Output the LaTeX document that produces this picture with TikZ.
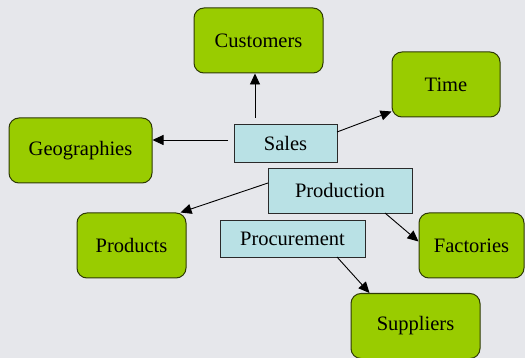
\documentclass[tikz,border=0pt]{standalone}
\usepackage{fontspec}
\setmainfont{Liberation Serif}
\newfontfamily\tnr{Liberation Serif}
\usetikzlibrary{arrows.meta,calc}
\definecolor{bgc}{HTML}{E6E7EB}
\definecolor{dimc}{HTML}{99CC00}
\definecolor{factc}{HTML}{B9E1E5}
\definecolor{edgec}{HTML}{2A2A2A}
\definecolor{dimedge}{HTML}{2E3A05}
\tikzset{
  dimbox/.style={draw=dimedge, line width=1pt, fill=dimc, rounded corners=10pt, inner sep=0pt, font=\tnr\fontsize{20.5}{24}\selectfont},
  factbox/.style={draw=edgec, line width=0.9pt, fill=factc, inner sep=0pt, font=\tnr\fontsize{20.5}{24}\selectfont},
  arr/.style={-{Triangle[length=11pt,width=10pt]}, line width=0.9pt, draw=black}
}
\begin{document}
\begin{tikzpicture}[x=1pt,y=-1pt]
\fill[bgc] (0,0) rectangle (525,358);
\useasboundingbox (0,0) rectangle (525,358);
% dimension boxes
\node[dimbox, minimum width=129pt, minimum height=65pt] (customers) at (258.5,40.5) {Customers};
\node[dimbox, minimum width=108pt, minimum height=65pt] (time) at (446,84.5) {Time};
\node[dimbox, minimum width=143pt, minimum height=65pt] (geo) at (80.5,150.5) {Geographies};
\node[dimbox, minimum width=109pt, minimum height=65pt] (products) at (131.5,245.5) {Products};
\node[dimbox, minimum width=105pt, minimum height=65pt] (factories) at (471.5,245.5) {Factories};
\node[dimbox, minimum width=129pt, minimum height=65pt] (suppliers) at (415.5,326) {Suppliers};
% fact boxes
\node[factbox, minimum width=103pt, minimum height=38pt] (sales) at (285.5,143) {Sales};
\node[factbox, minimum width=144pt, minimum height=45pt] (production) at (340,190.5) {Production};
\node[factbox, minimum width=145pt, minimum height=37pt] (procurement) at (292.5,238.5) {Procurement};
% connector start points
\coordinate (c1) at (255,118);
\coordinate (g1) at (228,140);
\coordinate (t1) at (337,132);
\coordinate (p1) at (268,183);
\coordinate (f1) at (385,213);
\coordinate (s1) at (337,257);
% connectors
\draw[arr] (c1) -- (customers.south -| c1);
\draw[arr] (g1) -- (geo.east |- g1);
\draw[arr] (t1) -- ($(time.south west)+(0,-6)$);
\draw[arr] (p1) -- ($(products.north east)+(-6,0)$);
\draw[arr] (f1) -- ($(factories.west)+(0,-4)$);
\draw[arr] (s1) -- ($(suppliers.north west)+(19,0)$);
\end{tikzpicture}
\end{document}
